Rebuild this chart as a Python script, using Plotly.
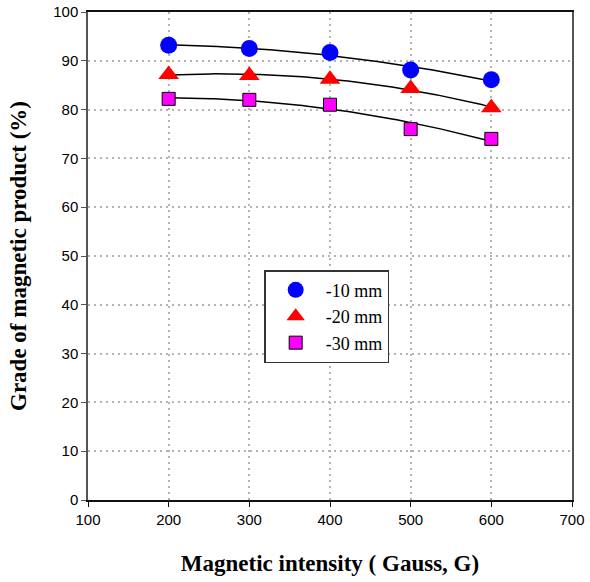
import numpy as np
import plotly.graph_objects as go

intensity = [200, 300, 400, 500, 600]
grade_10mm = [93.2, 92.5, 91.7, 88.1, 86.1]
grade_20mm = [87.2, 87.0, 86.2, 84.3, 80.4]
grade_30mm = [82.2, 82.0, 81.0, 76.0, 74.0]

series = [
    ("-10 mm", grade_10mm, "circle", "#0000FF", 17, "#0000FF"),
    ("-20 mm", grade_20mm, "triangle-up", "#FF0000", 18, "#FF0000"),
    ("-30 mm", grade_30mm, "square", "#FF00FF", 13, "#000000"),
]

fig = go.Figure()
xs = np.linspace(min(intensity), max(intensity), 100)
for name, vals, sym, col, size, lc in series:
    coef = np.polyfit(intensity, vals, 2)
    fig.add_trace(go.Scatter(x=xs, y=np.polyval(coef, xs), mode="lines",
                             line=dict(color="black", width=1.5),
                             showlegend=False, hoverinfo="skip"))
for name, vals, sym, col, size, lc in series:
    fig.add_trace(go.Scatter(x=intensity, y=vals, mode="markers", name=name,
                             marker=dict(symbol=sym, color=col, size=size,
                                         line=dict(color=lc, width=1 if sym == "square" else 0))))

axis_common = dict(
    showline=True, linewidth=1.5, mirror=True,
    ticks="outside", ticklen=5,
    showgrid=True, gridcolor="#b4b4b4", griddash="2px,4px", gridwidth=2,
    zeroline=False, automargin=False,
    tickfont=dict(family="Liberation Sans, Arial", size=15, color="black"),
)

fig.update_layout(
    width=590, height=582,
    margin=dict(l=88, r=18, t=12, b=82),
    paper_bgcolor="white", plot_bgcolor="white",
    xaxis=dict(range=[100, 700], dtick=100, tick0=100,
               linecolor="#111111", tickcolor="#111111",
               title=dict(text="Magnetic intensity ( Gauss, G)",
                          font=dict(family="Liberation Serif, Times New Roman", size=23,
                                    color="black", weight="bold"),
                          standoff=28),
               **axis_common),
    yaxis=dict(range=[0, 100], dtick=10,
               linecolor="#555555", tickcolor="#555555",
               title=dict(text="Grade of magnetic product (%)",
                          font=dict(family="Liberation Serif, Times New Roman", size=23,
                                    color="black", weight="bold"),
                          standoff=20),
               **axis_common),
    legend=dict(x=0.364, y=0.471, xanchor="left", yanchor="top",
                bordercolor="#333333", borderwidth=1.5, bgcolor="white",
                font=dict(family="Liberation Serif, Times New Roman", size=18, color="black"),
                itemwidth=50),
    showlegend=True,
)

fig.write_html("out.html")
